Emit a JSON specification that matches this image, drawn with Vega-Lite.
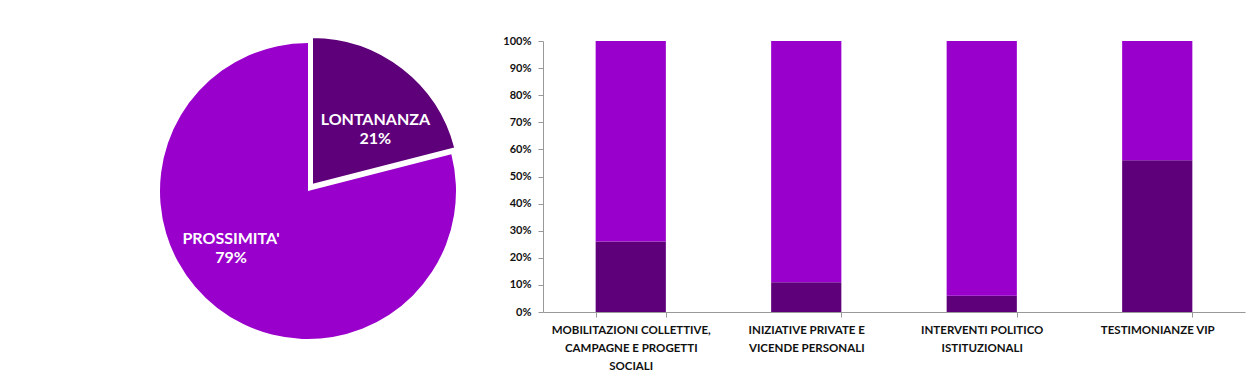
{
  "$schema": "https://vega.github.io/schema/vega-lite/v6.json",
  "padding": {"left": 158, "top": 33, "right": 5, "bottom": 5},
  "background": "white",
  "config": {"view": {"stroke": null}, "font": "Lato"},
  "spacing": 42,
  "hconcat": [
    {
      "width": 300,
      "height": 300,
      "data": {"values": [
        {"tipo": "LONTANANZA", "quota": 21, "etichetta": "LONTANANZA\n21%"},
        {"tipo": "PROSSIMITA'", "quota": 79, "etichetta": "PROSSIMITA'\n79%"}
      ]},
      "encoding": {
        "theta": {"field": "quota", "type": "quantitative", "stack": true},
        "order": {"field": "tipo", "sort": "ascending"},
        "color": {"field": "tipo", "type": "nominal", "legend": null,
          "scale": {"domain": ["LONTANANZA", "PROSSIMITA'"], "range": ["#5E0079", "#9900CC"]}}
      },
      "layer": [
        {"mark": {"type": "arc", "outerRadius": 148},
         "encoding": {"opacity": {"condition": {"test": "datum.tipo == 'LONTANANZA'", "value": 0}, "value": 1}}},
        {"mark": {"type": "arc", "outerRadius": 148, "xOffset": 4, "yOffset": -6, "stroke": "white", "strokeWidth": 2},
         "encoding": {"opacity": {"condition": {"test": "datum.tipo == 'LONTANANZA'", "value": 1}, "value": 0}}},
        {"mark": {"type": "text", "radius": 92, "dx": 11, "dy": 2, "font": "Lato", "fontWeight": "bold", "fontSize": 16, "lineBreak": "\n", "lineHeight": 19, "baseline": "middle", "align": "center"},
         "encoding": {"text": {"field": "etichetta"}, "color": {"value": "white"},
           "opacity": {"condition": {"test": "datum.tipo == 'LONTANANZA'", "value": 1}, "value": 0}}},
        {"mark": {"type": "text", "radius": 93, "dx": -20, "dy": -25, "font": "Lato", "fontWeight": "bold", "fontSize": 16, "lineBreak": "\n", "lineHeight": 19, "baseline": "middle", "align": "center"},
         "encoding": {"text": {"field": "etichetta"}, "color": {"value": "white"},
           "opacity": {"condition": {"test": "datum.tipo == 'LONTANANZA'", "value": 0}, "value": 1}}}
      ]
    },
    {
      "width": 702,
      "height": 271,
      "data": {"values": [
        {"categoria": "MOBILITAZIONI COLLETTIVE,\nCAMPAGNE E PROGETTI\nSOCIALI", "tipo": "LONTANANZA", "valore": 26},
        {"categoria": "MOBILITAZIONI COLLETTIVE,\nCAMPAGNE E PROGETTI\nSOCIALI", "tipo": "PROSSIMITA'", "valore": 74},
        {"categoria": "INIZIATIVE PRIVATE E\nVICENDE PERSONALI", "tipo": "LONTANANZA", "valore": 11},
        {"categoria": "INIZIATIVE PRIVATE E\nVICENDE PERSONALI", "tipo": "PROSSIMITA'", "valore": 89},
        {"categoria": "INTERVENTI POLITICO\nISTITUZIONALI", "tipo": "LONTANANZA", "valore": 6},
        {"categoria": "INTERVENTI POLITICO\nISTITUZIONALI", "tipo": "PROSSIMITA'", "valore": 94},
        {"categoria": "TESTIMONIANZE VIP", "tipo": "LONTANANZA", "valore": 56},
        {"categoria": "TESTIMONIANZE VIP", "tipo": "PROSSIMITA'", "valore": 44}
      ]},
      "mark": {"type": "bar"},
      "encoding": {
        "x": {"field": "categoria", "type": "nominal", "sort": null, "title": null,
          "scale": {"paddingInner": 0.6, "paddingOuter": 0.3},
          "axis": {"labelAngle": 0, "labelExpr": "split(datum.label, '\\n')", "labelFontSize": 11.5, "labelFontWeight": "bold", "labelColor": "#111", "labelLineHeight": 18, "labelPadding": 7, "labelBaseline": "top", "labelLimit": 300, "tickBand": "extent", "tickSize": 5, "domainColor": "#999", "tickColor": "#999"}},
        "y": {"field": "valore", "type": "quantitative", "stack": "normalize", "title": null,
          "scale": {"domain": [0, 1], "nice": false},
          "axis": {"format": ".0%", "values": [0, 0.1, 0.2, 0.3, 0.4, 0.5, 0.6, 0.7, 0.8, 0.9, 1], "grid": false, "labelFontSize": 11, "labelFontWeight": "bold", "labelColor": "#111", "domainColor": "#999", "tickColor": "#999", "tickSize": 5, "labelPadding": 7}},
        "order": {"field": "tipo", "sort": "ascending"},
        "color": {"field": "tipo", "type": "nominal", "legend": null,
          "scale": {"domain": ["LONTANANZA", "PROSSIMITA'"], "range": ["#5E0079", "#9900CC"]}}
      }
    }
  ]
}
